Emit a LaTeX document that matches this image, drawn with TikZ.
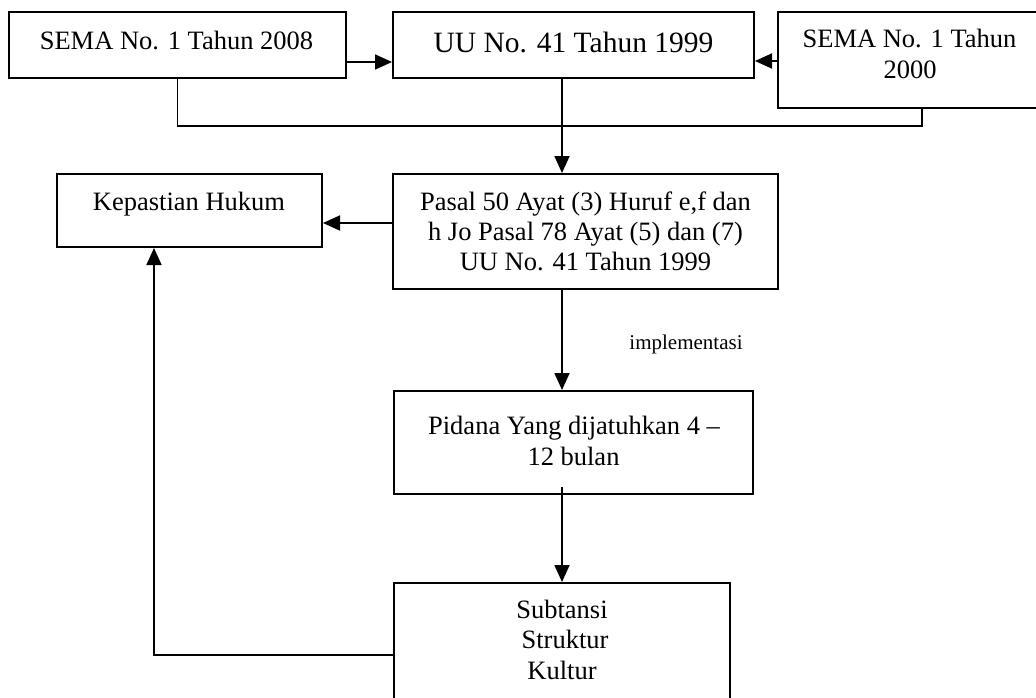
\documentclass[tikz,border=0pt]{standalone}
\usepackage{fontspec}
\setmainfont{Liberation Serif}
\usetikzlibrary{arrows.meta,calc}
\begin{document}
\begin{tikzpicture}[x=1pt,y=-1pt,
  box/.style={draw,line width=2pt,rectangle,inner sep=0pt},
  conn/.style={line width=1.8pt},
  arr/.style={conn,-{Triangle[length=17pt,width=15pt]}},
  txt/.style={anchor=base,inner sep=0pt,font=\fontsize{26.5}{30}\selectfont},
  bigtxt/.style={anchor=base,inner sep=0pt,font=\fontsize{29.5}{33}\selectfont},
  smalltxt/.style={anchor=base,inner sep=0pt,font=\fontsize{21}{25}\selectfont}]
\clip (0,0) rectangle (1036,697);
\fill[white] (0,0) rectangle (1036,697);
% boxes
\node[box,minimum width=337pt,minimum height=66pt] (b1) at (177.5,45) {};
\node[box,minimum width=361pt,minimum height=66pt] (b2) at (573.5,45) {};
\node[box,minimum width=288pt,minimum height=96pt] (b3) at (922,60) {};
\node[box,minimum width=265pt,minimum height=73pt] (kh) at (189.5,210.5) {};
\node[box,minimum width=385pt,minimum height=115pt] (ps) at (585.5,231.5) {};
\node[box,minimum width=359pt,minimum height=103pt] (pd) at (573.5,442.5) {};
\node[box,minimum width=336pt,minimum height=137pt] (sb) at (562,651.5) {};
% texts
\node[txt] (t1) at (176.5,49) {SEMA No. 1 Tahun 2008};
\node[bigtxt] (t2) at (573.5,52) {UU No. 41 Tahun 1999};
\node[txt] (t3a) at (909.5,47) {SEMA No. 1 Tahun};
\node[txt] (t3b) at (910,78) {2000};
\node[txt] (tk) at (189,210) {Kepastian Hukum};
\node[txt] (tpa) at (585.5,210) {Pasal 50 Ayat (3) Huruf e,f dan};
\node[txt] (tpb) at (585.5,240) {h Jo Pasal 78 Ayat (5) dan (7)};
\node[txt] (tpc) at (585.5,270) {UU No. 41 Tahun 1999};
\node[txt] (tda) at (574,434) {Pidana Yang dijatuhkan 4 –};
\node[txt] (tdb) at (573.5,465) {12 bulan};
\node[txt] (tsa) at (562,618) {Subtansi};
\node[txt] (tsb) at (565,648) {Struktur};
\node[txt] (tsc) at (562,679) {Kultur};
\node[smalltxt] (impl) at (686,349) {implementasi};
% connectors
\coordinate (j) at (562,126);
\draw[arr] ([yshift=-17pt]b1.east) -- ([yshift=-17pt]b2.west);
\draw[arr] ([yshift=-1pt]b3.west) -- ([yshift=-1pt]b3.west -| b2.east);
\draw[conn] (b1.south) |- (j) -| (b3.south);
\draw[arr] (b2.south -| j) -- (ps.north -| j);
\draw[arr] ([yshift=8.5pt]ps.west) -- ([yshift=8.5pt]ps.west -| kh.east);
\draw[arr] (ps.south -| j) -- (pd.north -| j);
\draw[arr] ($(pd.south -| j)+(0,-8)$) -- (sb.north -| j);
\draw[arr] ([yshift=-3.5pt]sb.west) -| ([xshift=-35.5pt]kh.south);
\end{tikzpicture}
\end{document}
